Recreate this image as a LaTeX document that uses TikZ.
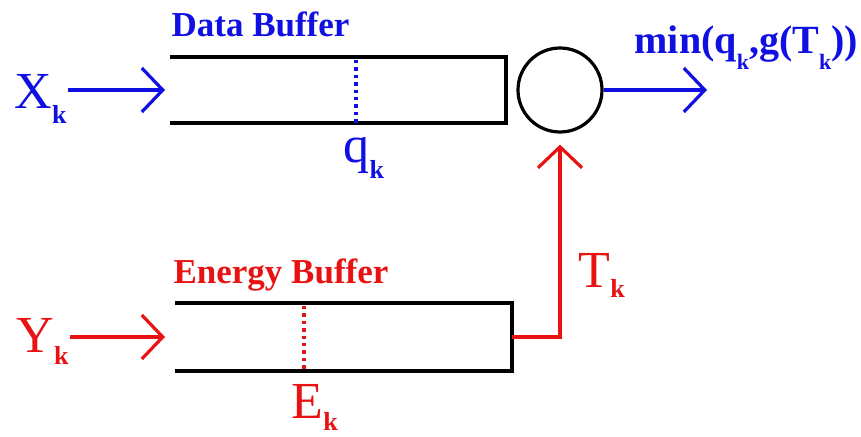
\documentclass[tikz,border=0pt]{standalone}
\usepackage{fontspec}
\setmainfont{Liberation Serif}
\usetikzlibrary{arrows.meta}
\definecolor{datablue}{RGB}{16,16,226}
\definecolor{energyred}{RGB}{232,18,18}
\newcommand{\withk}[2]{#1\raisebox{-#2}{\fontsize{26}{26}\selectfont\bfseries k}}
\newcommand{\smallk}{\raisebox{-17pt}{\fontsize{22}{22}\selectfont k}}

\begin{document}
\begin{tikzpicture}[x=1pt,y=-1pt,line width=3.2pt,
    >={Straight Barb[length=21pt,width=44pt]},
    sym/.style={font=\fontsize{52}{52}\selectfont,inner sep=0pt,anchor=base west},
    title/.style={font=\fontsize{35}{35}\selectfont\bfseries,inner sep=0pt,anchor=base west},
    level/.style={line width=3.4pt,dash pattern=on 3.4pt off 4pt}]
    \useasboundingbox (0,0) rectangle (861,436);

    % data side
    \node[sym,datablue] (xk) at (13,108) {\withk{X}{15pt}};
    \coordinate (xin) at (165,90);
    \draw[datablue,->] (xk.east |- xin) -- (xin);
    \coordinate (dtl) at (170,57);
    \coordinate (dtr) at (506,57);
    \coordinate (dbr) at (506,123);
    \coordinate (dbl) at (170,123);
    \draw (dtl) -- (dtr) -- (dbr) -- (dbl);
    \draw[datablue,level] (356,60) -- (356,123);
    \node[title,datablue] (dlabel) at (170,37) {Data Buffer};
    \node[sym,datablue] (qk) at (342,162) {\withk{q}{16pt}};

    % server
    \node[circle,draw,minimum size=84pt,inner sep=0pt] (srv) at (560,90) {};
    \coordinate (out) at (707,90);
    \draw[datablue,->] (srv.east) -- (out);
    \node[datablue,inner sep=0pt,anchor=base west,font=\fontsize{40}{40}\selectfont\bfseries]
      (rate) at (633,53) {min(q\smallk,g(T\smallk))};

    % energy side
    \node[sym,energyred] (yk) at (15,352) {\withk{Y}{12pt}};
    \coordinate (yin) at (165,337);
    \draw[energyred,->] (yk.east |- yin) -- (yin);
    \coordinate (etl) at (175,303);
    \coordinate (etr) at (512,303);
    \coordinate (ebr) at (512,371);
    \coordinate (ebl) at (175,371);
    \draw (etl) -- (etr) -- (ebr) -- (ebl);
    \draw[energyred,level] (304,306) -- (304,371);
    \node[title,energyred] (elabel) at (172,283) {Energy Buffer};
    \node[sym,energyred] (ek) at (290,418) {\withk{E}{12pt}};
    \coordinate (eout) at (512,337);
    \draw[energyred,->,shorten >=11pt] (eout) -| (srv.south);
    \node[sym,energyred] (tk) at (577,287) {\withk{T}{10pt}};
\end{tikzpicture}
\end{document}
